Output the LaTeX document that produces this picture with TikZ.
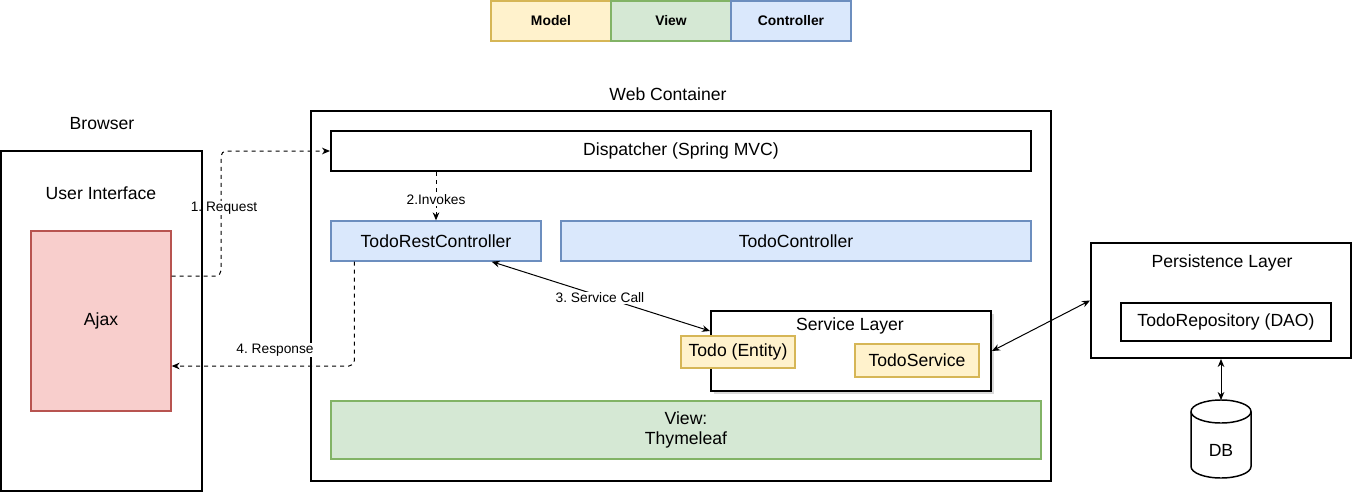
\documentclass[tikz,border=0pt]{standalone}
\usepackage{fontspec}
\setmainfont{Liberation Sans}
\usetikzlibrary{arrows.meta,shadows}
\definecolor{mfill}{HTML}{FFF2CC}
\definecolor{mline}{HTML}{D6B656}
\definecolor{vfill}{HTML}{D5E8D4}
\definecolor{vline}{HTML}{82B366}
\definecolor{cfill}{HTML}{DAE8FC}
\definecolor{cline}{HTML}{6C8EBF}
\definecolor{afill}{HTML}{F8CECC}
\definecolor{aline}{HTML}{B85450}
\frenchspacing
\tikzset{
	mo/.style={draw=mline, fill=mfill, line width=1pt, inner sep=0pt},
	vi/.style={draw=vline, fill=vfill, line width=1pt, inner sep=0pt},
	co/.style={draw=cline, fill=cfill, line width=1pt, inner sep=0pt},
	aj/.style={draw=aline, fill=afill, line width=1pt, inner sep=0pt},
	frame/.style={draw, line width=1.5pt, inner sep=0pt},
	legend/.style={font=\fontsize{10.4}{12}\selectfont\bfseries, minimum width=90pt, minimum height=30pt},
	tag/.style={font=\fontsize{10.3}{12}\selectfont, fill=white, inner sep=1pt},
	dsh/.style={dash pattern=on 3pt off 3pt, line width=0.75pt, rounded corners=4pt, -{Stealth[length=6pt,width=5pt]}},
	both/.style={line width=0.75pt, {Stealth[length=6pt,width=5pt]}-{Stealth[length=6pt,width=5pt]}},
}
\begin{document}
\begin{tikzpicture}[x=0.75pt, y=-0.75pt, font=\fontsize{13.2}{15}\selectfont]
	\useasboundingbox (0,0) rectangle (1352,492);

	% legend
	\node[mo, legend] (model) at (551,21) {Model};
	\node[vi, legend] (view) at (671,21) {View};
	\node[co, legend] (ctrl) at (791,21) {Controller};

	% browser
	\node (browsertitle) at (102,124) {Browser};
	\node (ui) at (101,193) {User Interface};
	\node[aj, minimum width=105pt, minimum height=135pt] (ajax) at (101,321) {Ajax};

	% web container
	\node (webtitle) at (668,94) {Web Container};
	\node[frame, minimum width=555pt, minimum height=277.5pt] (web) at (681,296) {};
	\node[frame, minimum width=525pt, minimum height=30pt] (disp) at (681,151) {Dispatcher (Spring MVC)};
	\node[co, minimum width=157.5pt, minimum height=30pt] (trc) at (436,241) {TodoRestController};
	\node[co, minimum width=352.5pt, minimum height=30pt] (tc) at (796,241) {TodoController};
	\node[frame, fill=white, drop shadow={shadow xshift=2pt, shadow yshift=-2pt, opacity=0.3}, minimum width=210pt, minimum height=60pt] (svc) at (851,351) {};
	\node (svctitle) at (850,326) {Service Layer};
	\node[mo, minimum width=85.5pt, minimum height=24pt] (todo) at (738,352) {Todo (Entity)};
	\node[mo, minimum width=93pt, minimum height=24.75pt] (tsvc) at (917,360.5) {TodoService};
	\node[vi, align=center, minimum width=532.5pt, minimum height=43.5pt] (thy) at (686,430) {View:\\Thymeleaf};

	% persistence
	\node[frame, minimum width=195pt, minimum height=86.25pt] (pers) at (1221,300.5) {};
	\node (perstitle) at (1222,263) {Persistence Layer};
	\node[draw, line width=1.1pt, minimum width=157.5pt, minimum height=28.5pt] (repo) at (1226,322) {TodoRepository (DAO)};

	% database
	\coordinate (dbtop) at (1221,400);
	\draw[line width=1.1pt, fill=white] (1191,411.5) -- (1191,466.5) arc[start angle=180, end angle=0, x radius=30, y radius=11.5] -- (1251,411.5);
	\draw[line width=1.1pt] (1221,411.5) ellipse[x radius=30, y radius=11.5];
	\node (db) at (1221,450) {DB};

	% connectors
	\draw[dsh] ([yshift=33.75pt]ajax.east) -- (221,276) -- (221,151) -- (disp.west);
	\draw[dsh] (disp.south -| trc.north) -- (trc.north);
	\draw[dsh] ([xshift=18pt]trc.south west) |- ([yshift=-33.75pt]ajax.east);
	\draw[both] ([xshift=-37.5pt]trc.south east) -- ([yshift=15pt]svc.west);
	\draw[both] (svc.east) -- (pers.west);
	\draw[both] (pers.south) -- (dbtop);

	\node[tag] (req) at (224,208) {1. Request};
	\node[tag] (inv) at (436,200) {2.Invokes};
	\node[tag] (call) at (600,298) {3. Service Call};
	\node[tag] (resp) at (275,350) {4. Response};

	\node[frame, minimum width=150.75pt, minimum height=255pt] (browser) at (101.5,321) {};
\end{tikzpicture}
\end{document}
